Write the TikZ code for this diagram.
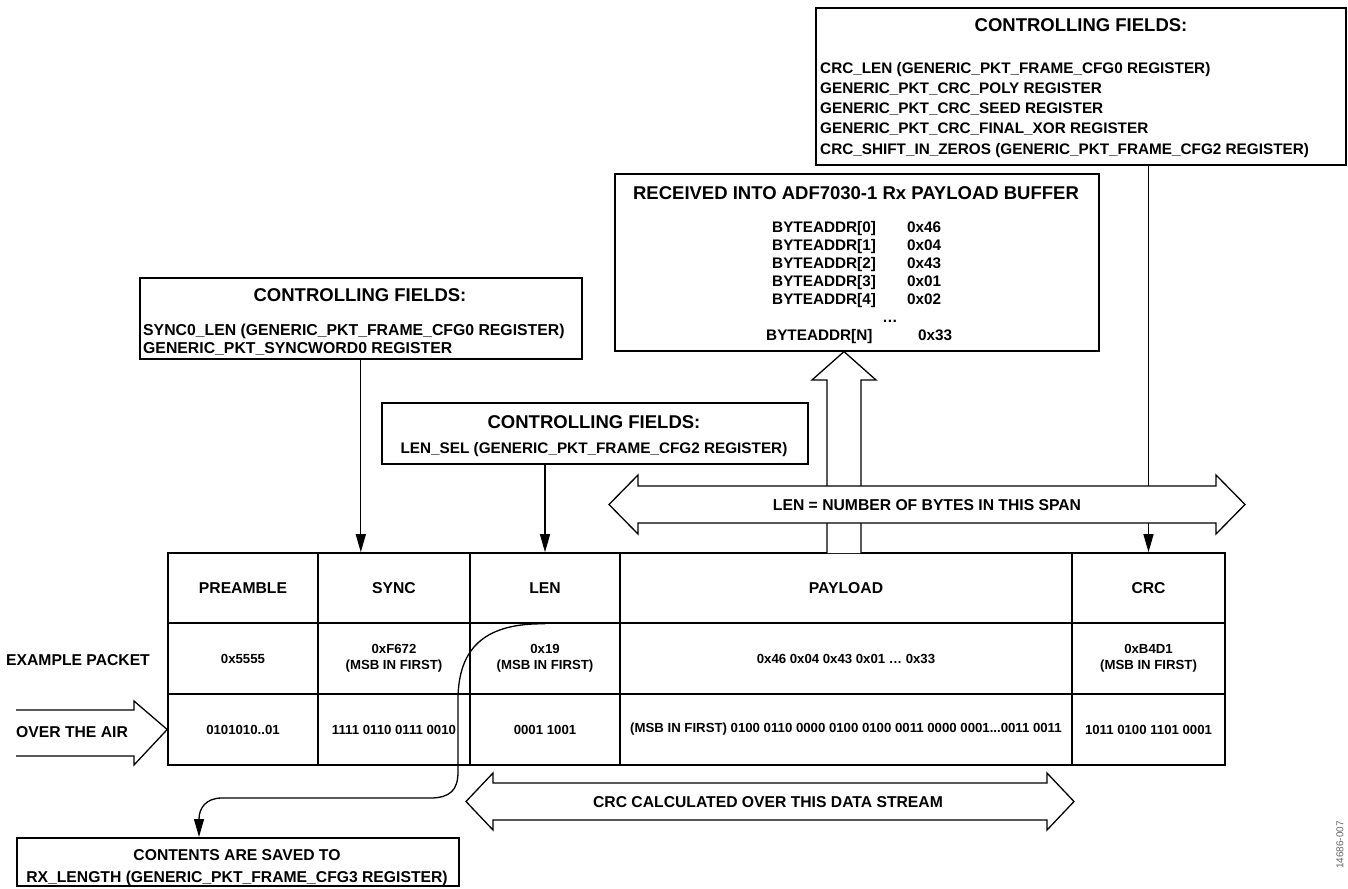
\documentclass[tikz,border=0pt]{standalone}
\usepackage{fontspec}
\setmainfont{Liberation Sans}
\usetikzlibrary{arrows.meta,calc}
\newcommand\fT{\fontsize{18.5}{20}\selectfont\bfseries}
\newcommand\fB{\fontsize{15.3}{20}\selectfont\bfseries}
\newcommand\fBL{\fontsize{15.8}{20}\selectfont\bfseries}
\newcommand\fH{\fontsize{15.7}{18}\selectfont\bfseries}
\newcommand\fV{\fontsize{13.2}{16}\selectfont\bfseries}
\begin{document}
\begin{tikzpicture}[x=1pt,y=-1pt,
  box/.style={draw, line width=1.6pt, fill=white, inner sep=0pt},
  cell/.style={draw, line width=1.6pt, inner sep=0pt, align=center, font=\fH},
  vcell/.style={cell, font=\fV},
  arr/.style={line width=1.3pt, -{Triangle[length=18pt,width=10pt]}},
  hollow/.style={draw, line width=1.3pt, fill=white, line join=miter},
  lbl/.style={inner sep=0pt, font=\fH},
  body/.style={inner sep=0pt, font=\fB, anchor=base west},
  ttl/.style={inner sep=0pt, font=\fT}]
\useasboundingbox (0,0) rectangle (1348,888);

% ---------- top right box (CRC controlling fields)
\node[box, anchor=north west, minimum width=530, minimum height=157] (crcbox) at (815,7) {};
\node[ttl] (crct) at (1081,25) {CONTROLLING FIELDS:};
\node[body] (crcl1) at (820,73.5) {CRC\_LEN (GENERIC\_PKT\_FRAME\_CFG0 REGISTER)};
\node[body] (crcl2) at (820,93.5) {GENERIC\_PKT\_CRC\_POLY REGISTER};
\node[body] (crcl3) at (820,113.5) {GENERIC\_PKT\_CRC\_SEED REGISTER};
\node[body] (crcl4) at (820,133.5) {GENERIC\_PKT\_CRC\_FINAL\_XOR REGISTER};
\node[body] (crcl5) at (820,154.5) {CRC\_SHIFT\_IN\_ZEROS (GENERIC\_PKT\_FRAME\_CFG2 REGISTER)};

% ---------- received box
\node[box, anchor=north west, minimum width=484, minimum height=177] (recv) at (614,173) {};
\node[ttl] (recvt) at (856,193) {RECEIVED INTO ADF7030-1 Rx PAYLOAD BUFFER};
\node[body] (ba0) at (772,232.5) {BYTEADDR[0]};
\node[body] (bv0) at (907,232.5) {0x46};
\node[body] (ba1) at (772,250.5) {BYTEADDR[1]};
\node[body] (bv1) at (907,250.5) {0x04};
\node[body] (ba2) at (772,268.5) {BYTEADDR[2]};
\node[body] (bv2) at (907,268.5) {0x43};
\node[body] (ba3) at (772,286.5) {BYTEADDR[3]};
\node[body] (bv3) at (907,286.5) {0x01};
\node[body] (ba4) at (772,304.5) {BYTEADDR[4]};
\node[body] (bv4) at (907,304.5) {0x02};
\node[body, anchor=base] (bdots) at (890,322.5) {\dots};
\node[body] (baN) at (766,340.5) {BYTEADDR[N]};
\node[body] (bvN) at (918,340.5) {0x33};

% ---------- left box (SYNC controlling fields)
\node[box, anchor=north west, minimum width=442, minimum height=81] (syncbox) at (139,277) {};
\node[ttl] (synct) at (360,295) {CONTROLLING FIELDS:};
\node[body, font=\fBL] (syncl1) at (143,335.5) {SYNC0\_LEN (GENERIC\_PKT\_FRAME\_CFG0 REGISTER)};
\node[body, font=\fBL] (syncl2) at (143,353.5) {GENERIC\_PKT\_SYNCWORD0 REGISTER};

% ---------- LEN_SEL box
\node[box, anchor=north west, minimum width=426, minimum height=61] (lensel) at (381,402) {};
\node[ttl] (lenselt) at (594,422) {CONTROLLING FIELDS:};
\node[body, anchor=base] (lensell) at (594,453.5) {LEN\_SEL (GENERIC\_PKT\_FRAME\_CFG2 REGISTER)};

% ---------- table
\node[cell, minimum width=150, minimum height=70] (h1) at (243,588) {PREAMBLE};
\node[cell, minimum width=152, minimum height=70] (h2) at (394,588) {SYNC};
\node[cell, minimum width=150, minimum height=70] (h3) at (545,588) {LEN};
\node[cell, minimum width=452, minimum height=70] (h4) at (846,588) {PAYLOAD};
\node[cell, minimum width=153, minimum height=70] (h5) at (1148.5,588) {CRC};

\node[vcell, minimum width=150, minimum height=71] (e1) at (243,658.5) {0x5555};
\node[vcell, minimum width=152, minimum height=71] (e2) at (394,658.5) {0xF672\\(MSB IN FIRST)};
\node[vcell, minimum width=150, minimum height=71] (e3) at (545,658.5) {0x19\\(MSB IN FIRST)};
\node[vcell, minimum width=452, minimum height=71] (e4) at (846,658.5) {0x46 0x04 0x43 0x01 \dots\ 0x33};
\node[vcell, minimum width=153, minimum height=71] (e5) at (1148.5,658.5) {0xB4D1\\(MSB IN FIRST)};

\node[vcell, minimum width=150, minimum height=71] (o1) at (243,729.5) {0101010..01};
\node[vcell, minimum width=152, minimum height=71] (o2) at (394,729.5) {1111 0110 0111 0010};
\node[vcell, minimum width=150, minimum height=71] (o3) at (545,729.5) {0001 1001};
\node[vcell, minimum width=452, minimum height=71] (o4) at (846,729.5) {(MSB IN FIRST) 0100 0110 0000 0100 0100 0011 0000 0001...0011 0011};
\node[vcell, minimum width=153, minimum height=71] (o5) at (1148.5,729.5) {1011 0100 1101 0001};

% side labels
\node[lbl, anchor=west] (exlbl) at (6,660) {EXAMPLE PACKET};
\draw[line width=1.3pt, line join=miter] (16,710) -- (134,710) -- (134,701) -- (o1.west) -- (134,765) -- (134,756) -- (16,756);
\node[lbl, anchor=west] (airlbl) at (16,732) {OVER THE AIR};

% ---------- connectors
\draw[arr] (syncbox.south) -- (syncbox.south |- h2.north);
\draw[arr] (lensel.south -| h3.north) -- (h3.north);
\draw[arr] (crcbox.south -| h5.north) -- (h5.north);

% hollow up arrow into receive buffer
\coordinate (uptip) at (recv.south -| 844,0);
\draw[hollow] (827,553) -- (827,380) -- (812,380) -- (uptip) -- (876,380) -- (861,380) -- (861,553);

% LEN span double arrow
\draw[hollow] (609,504.5) -- (638,475) -- (638,486) -- (1216,486) -- (1216,475) -- (1245,504.5)
  -- (1216,534) -- (1216,523) -- (638,523) -- (638,534) -- cycle;
\node[lbl] (lenlbl) at (927,505) {LEN = NUMBER OF BYTES IN THIS SPAN};

% CRC span double arrow
\draw[hollow] (466,801.5) -- (493,773) -- (493,783) -- (1047,783) -- (1047,773) -- (1074,801.5)
  -- (1047,830) -- (1047,820) -- (493,820) -- (493,830) -- cycle;
\node[lbl] (crclbl) at (768,802) {CRC CALCULATED OVER THIS DATA STREAM};

% bottom box
\node[box, anchor=north west, minimum width=442, minimum height=48] (saved) at (16,837) {};
\node[lbl, anchor=base] (savedl1) at (237,860.7) {CONTENTS ARE SAVED TO};
\node[lbl, anchor=base] (savedl2) at (237,882) {RX\_LENGTH (GENERIC\_PKT\_FRAME\_CFG3 REGISTER)};

% curved connector from LEN cell to saved box
\coordinate (savedin) at (saved.north -| 199,0);
\draw[arr] (h3.south) .. controls (488,623) and (458,645) .. (458,700) -- (458,772)
  .. controls (458,790) and (450,798) .. (430,798) -- (222,798)
  .. controls (206,798) and (199,808) .. (savedin);

% figure number
\node[rotate=90, inner sep=0pt, text=black!60, font=\fontsize{10}{10}\selectfont] (fignum) at (1340,845) {14686-007};
\end{tikzpicture}
\end{document}
